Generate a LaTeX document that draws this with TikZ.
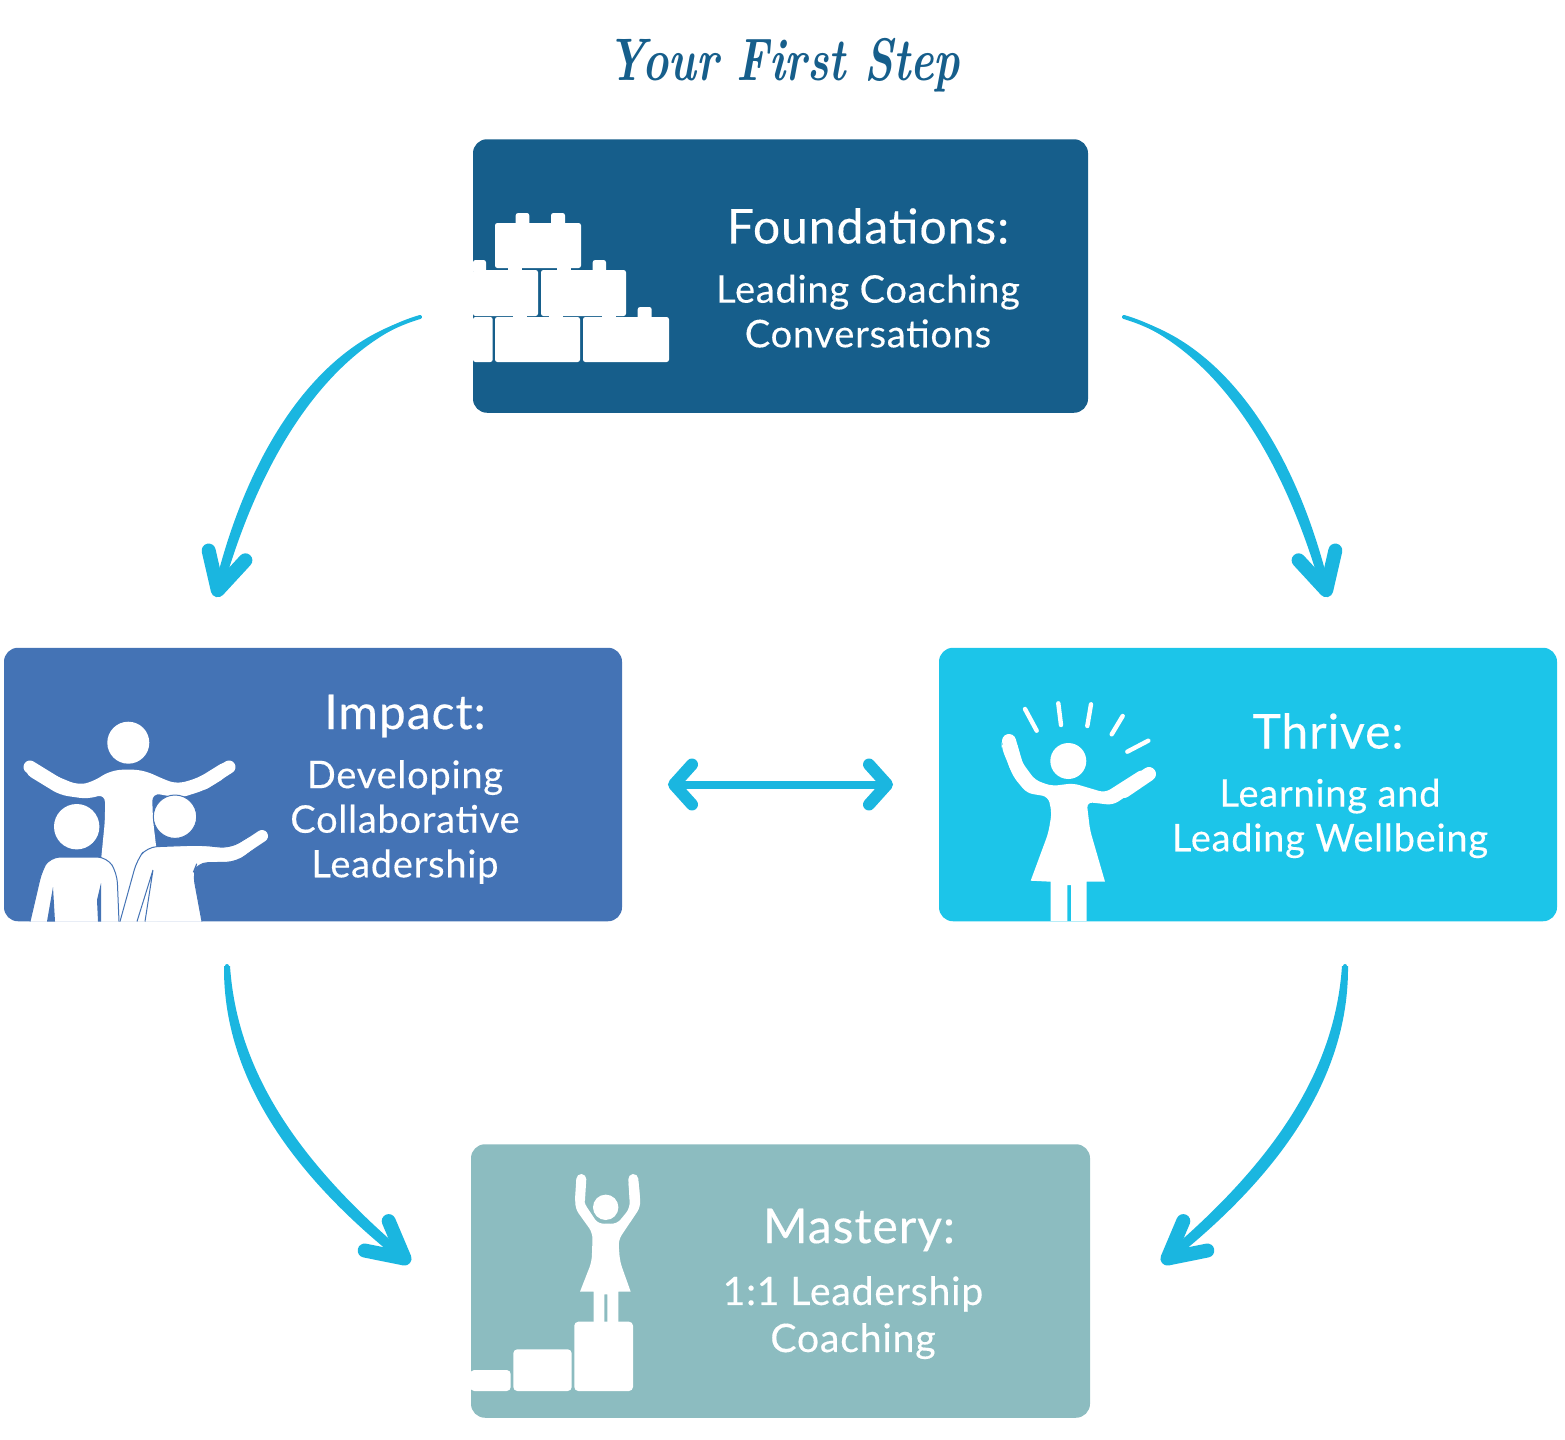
\documentclass[tikz,border=0pt]{standalone}
\usepackage{fontspec}
\setsansfont[LetterSpace=2,FakeBold=0.3]{Lato}
\usetikzlibrary{positioning,arrows.meta}
\definecolor{foundblue}{HTML}{165E8B}
\definecolor{impactblue}{HTML}{4473B5}
\definecolor{thrivecyan}{HTML}{1CC5E9}
\definecolor{masterygrey}{HTML}{8CBCC0}
\definecolor{flowcyan}{HTML}{1AB6E0}

\begin{document}
\begin{tikzpicture}[
  x=0.5pt, y=-0.5pt,
  box/.style={rounded corners=7pt, inner sep=0pt, outer sep=0pt, minimum width=309pt, minimum height=136.75pt},
  headline/.style={text=white, inner sep=0pt, font=\sffamily\fontsize{24}{26}\selectfont},
  detail/.style={text=white, inner sep=0pt, align=center, font=\sffamily\fontsize{19}{22.3}\selectfont},
  icon/.style={fill=white},
  brick/.style={fill=white, rounded corners=1.2pt},
  ray/.style={draw=white, line width=2.2pt, line cap=round},
  limb/.style={draw=white, line cap=round},
  flow/.style={draw=flowcyan, line width=2pt, line cap=round, -{Straight Barb[round, length=18pt, width=19pt, line width=7pt]}},
  sweep/.style={fill=flowcyan},
  both/.style={draw=flowcyan, line width=4pt, {Straight Barb[round, length=9pt, width=20pt, line width=6pt]}-{Straight Barb[round, length=9pt, width=20pt, line width=6pt]}}
]
\useasboundingbox (0,0) rectangle (1565,1440);

\node[text=foundblue, inner sep=0pt, xscale=0.74, font=\rmfamily\bfseries\itshape\fontsize{30}{34}\selectfont] (heading) at (784,65) {Your First Step};

\node[box, fill=foundblue, minimum width=307.5pt] (found) at (780.5,276) {};
\node[box, fill=impactblue, below=117.5pt of found, xshift=-233.75pt] (impact) {};
\node[box, fill=thrivecyan, right=158.5pt of impact] (thrive) {};
\node[box, fill=masterygrey, minimum width=309.5pt, below=111.5pt of impact, xshift=233.75pt] (mastery) {};

\node[headline] (foundtitle) at (868,226) {Foundations:};
\node[detail, below=15pt of foundtitle] (foundtext) {Leading Coaching\\Conversations};
\node[headline] (impacttitle) at (405,716) {Impact:};
\node[detail, below=11pt of impacttitle] (impacttext) {Developing\\Collaborative\\Leadership};
\node[headline] (thrivetitle) at (1328,731) {Thrive:};
\node[detail, below=14.5pt of thrivetitle, xshift=1pt] (thrivetext) {Learning and\\Leading Wellbeing};
\node[headline] (masterytitle) at (859,1230) {Mastery:};
\node[detail, below=12pt of masterytitle, xshift=-3pt, font=\sffamily\fontsize{19.6}{23.5}\selectfont] (masterytext) {1:1 Leadership\\Coaching};

% bricks
\foreach \xa/\ya/\xb/\yb in {495/223/581/268, 473/270/538/316, 541/270/626/316, 473/317/492.7/362, 495/317/580/362, 583/317/669/362,
  515.7/213/529.3/226, 551/213/565/226, 592.7/260/606/273, 637.7/307/651.7/320, 473/260/486/273}
  \fill[brick] (\xa,\ya) rectangle (\xb,\yb);
\foreach \xa/\ya/\xb/\yb in {508/266/522/272, 557/266/571/272, 513/314/527/319, 549/314/563/319, 602/314/616/319}
  \fill[icon] (\xa,\ya) rectangle (\xb,\yb);

% people
\fill[icon] (128.3,742.7) circle (21);
\fill[icon, rounded corners=4pt] (27,761) -- (56,776) -- (78,785) -- (92,782) -- (110,771) -- (128,769) -- (146,771) -- (163,779) -- (177,784) -- (198,778) -- (227,760) -- (228,776) -- (205,790) -- (180,798) -- (152,793) -- (153,820) -- (165,921) -- (95,921) -- (105,820) -- (105,794) -- (88,799) -- (60,795) -- (24,773) -- cycle;
\fill[icon, draw=impactblue, line width=0.5pt, rounded corners=5pt] (30,921.5) -- (42,870) -- (50,857) -- (107,857) -- (117,873) -- (119,921.5);
\fill[impactblue] (53,887) -- (47,921.5) -- (55,921.5) -- cycle;
\fill[impactblue] (101,883) -- (97,900) -- (98,921.5) -- (101,921.5) -- cycle;
\fill[icon] (76.7,826.7) circle (22.7);
\fill[icon, draw=impactblue, line width=0.5pt, rounded corners=5pt] (120,921.5) -- (137,860) -- (147,847) -- (200,845) -- (230,848) -- (257,832) -- (263,842) -- (237,862) -- (197,863) -- (193,873) -- (202,921.5);
\draw[impactblue, line width=0.5pt] (153,870) -- (137,921.5) (153,870) -- (145,921.5);
\fill[icon, draw=impactblue, line width=0.5pt] (175,816.7) circle (21.7);

% thrive figure
\foreach \xa/\ya/\xb/\yb in {1025/709/1036.7/730.7, 1058.3/703.3/1061/725, 1091/704.3/1087.3/726, 1122.7/716/1111.7/734.3, 1148.3/740.7/1127.3/751.7}
  \draw[ray] (\xa,\ya) -- (\xb,\yb);
\fill[icon] (1068.3,761) circle (18);
\fill[icon, rounded corners=3pt] (1001.7,741.7) -- (1016,740) -- (1021.7,761.7) -- (1035,780) -- (1051.7,786) -- (1073.3,783.3) -- (1105,792.7) -- (1143.3,768.3) -- (1148,781.7) -- (1113,805) -- (1086.7,802) -- (1090,830) [sharp corners] -- (1105,881.7) -- (1086.7,881.7) -- (1086.7,921) -- (1071,921) -- (1071,885) -- (1067.3,885) -- (1067.3,921) -- (1050.7,921) -- (1050.7,881.7) -- (1030.7,880.7) [rounded corners=3pt] -- (1048.3,833) -- (1051.7,813) -- (1048.3,796.7) -- (1026.7,793) -- (1013.3,776.7) -- (1001.7,748) -- cycle;

% podium
\foreach \xa/\ya/\xb/\yb in {470.3/1370/510.7/1391, 513.3/1349.3/571.7/1391, 574.3/1321.7/633/1391}
  \fill[brick, rounded corners=2pt] (\xa,\ya) rectangle (\xb,\yb);
\fill[icon] (605.7,1207.3) circle (12.7);
\fill[icon, rounded corners=3pt] (576.7,1178.3) -- (586,1178.3) -- (583.3,1201.7) -- (598.3,1224.3) -- (606.7,1223.3) -- (616.7,1224.3) -- (630,1208) -- (628.3,1178.3) -- (638.3,1178.3) -- (640.7,1206.7) -- (618.3,1240) -- (620,1261.7) [sharp corners] -- (630.7,1291.7) -- (618.3,1291.7) -- (618.3,1323) -- (607.3,1323) -- (607.3,1294.3) -- (604.3,1294.3) -- (604.3,1323) -- (593.7,1323) -- (593.7,1291.7) -- (580,1291.7) [rounded corners=3pt] -- (591.7,1261.7) -- (592.7,1233) -- (575,1208.3) -- cycle;

% hands
\foreach \xa/\ya/\xb/\yb/\wd in {30/767/56/783/6.5, 229/767/204/783/6.5, 262/836/238/852/6, 1009/741/1016/765/7, 1149/774/1124/791/7, 581.3/1179/580/1200/5, 633.3/1179/635/1200/5}
  \draw[limb, line width=\wd pt] (\xa,\ya) -- (\xb,\yb);

% connectors
\coordinate (fitail) at (420,317);
\coordinate (fihead) at (216,597);
\coordinate (fttail) at (1124,317);
\coordinate (fthead) at (1328,597);
\coordinate (imtail) at (227,966);
\coordinate (imhead) at (410,1263);
\coordinate (tmtail) at (1345,966);
\coordinate (tmhead) at (1162,1263);

\fill[sweep] (fitail) .. controls (322,338) and (248,447) .. (214,590) -- (222,592) .. controls (261,454) and (328,351) .. (fitail);
\fill[sweep] (fttail) .. controls (1222,338) and (1296,447) .. (1330,590) -- (1322,592) .. controls (1283,454) and (1216,351) .. (fttail);
\fill[sweep] (224,966) .. controls (223,1071) and (285,1170) .. (403,1263) -- (410,1257) .. controls (295,1160) and (237,1069) .. (230,966);
\fill[sweep] (1348,966) .. controls (1349,1071) and (1287,1170) .. (1169,1263) -- (1162,1257) .. controls (1277,1160) and (1335,1069) .. (1342,966);
\draw[flow] (fitail) .. controls (325,345) and (255,450) .. (fihead);
\draw[flow] (fttail) .. controls (1219,345) and (1289,450) .. (fthead);
\draw[flow] (imtail) .. controls (230,1070) and (290,1165) .. (imhead);
\draw[flow] (tmtail) .. controls (1342,1070) and (1282,1165) .. (tmhead);
\draw[both, shorten <=23pt, shorten >=23pt] (impact) -- (thrive);
\end{tikzpicture}
\end{document}
